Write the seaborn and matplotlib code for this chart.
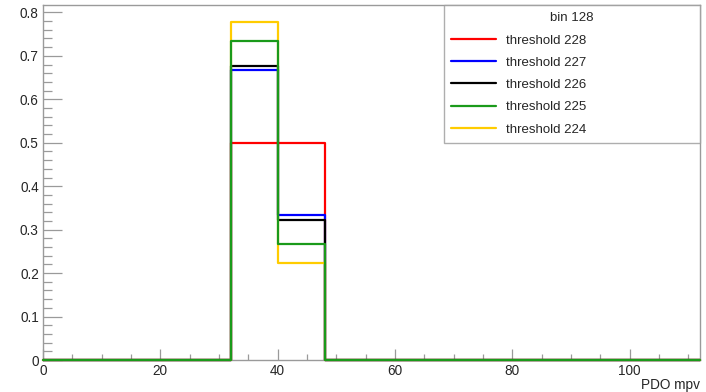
import numpy as np
import pandas as pd
import seaborn as sns
import matplotlib
matplotlib.use("Agg")
import matplotlib.pyplot as plt
from matplotlib.ticker import MultipleLocator

# Histogram binning for PDO mpv (14 bins of width 8 from 0 to 112)
bin_width = 8
x_range = (0, 112)
bin_centers = np.arange(x_range[0] + bin_width / 2, x_range[1], bin_width)

# Normalised contents of the two populated bins [32,40) and [40,48)
thresholds = [228, 227, 226, 225, 224]
frac_bin_32 = [0.5, 0.6667, 0.6774, 0.7333, 0.7778]
frac_bin_40 = [0.5, 0.3333, 0.3226, 0.2667, 0.2222]
colors = ["#ff0000", "#0000ff", "#000000", "#1a9a1a", "#ffcc00"]
zorders = [3, 4, 5, 7, 6]

sns.set_theme(style="white")
plt.rcParams["font.family"] = ["Liberation Sans", "DejaVu Sans"]

fig = plt.figure(figsize=(7.06, 3.92), dpi=100)
ax = fig.add_axes([43 / 706, 1 - 360 / 392, (700 - 43) / 706, (360 - 5) / 392])

rows = []
for thr, a, b in zip(thresholds, frac_bin_32, frac_bin_40):
    w = np.zeros(len(bin_centers))
    w[4] = a
    w[5] = b
    for c, wv in zip(bin_centers, w):
        rows.append({"mpv": c, "weight": wv, "series": f"threshold {thr}"})
df = pd.DataFrame(rows)

for thr, col, z in zip(thresholds, colors, zorders):
    sub = df[df["series"] == f"threshold {thr}"]
    sns.histplot(data=sub, x="mpv", weights="weight", binwidth=bin_width,
                 binrange=x_range, element="step", fill=False, color=col,
                 linewidth=1.6, ax=ax, label=f"threshold {thr}", zorder=z)

# let the zero-level outline sit on top of the frame instead of being clipped
for artist in list(ax.lines) + list(ax.patches) + list(ax.collections):
    artist.set_clip_on(False)

ax.set_ylabel("")
ax.set_xlabel("")

frame_col = "#9a9a9a"
for sp in ax.spines.values():
    sp.set_color(frame_col)
    sp.set_linewidth(1.0)
    sp.set_zorder(1)

ax.xaxis.set_major_locator(MultipleLocator(20))
ax.xaxis.set_minor_locator(MultipleLocator(5))
ax.yaxis.set_major_locator(MultipleLocator(0.1))
ax.yaxis.set_minor_locator(MultipleLocator(0.02))
ax.tick_params(axis="x", which="major", direction="in", length=8, width=0.9,
               color=frame_col, labelsize=9.8, pad=3.2, bottom=True, top=False)
ax.tick_params(axis="x", which="minor", direction="in", length=4, width=0.9,
               color=frame_col, bottom=True, top=False)
ax.tick_params(axis="y", which="major", direction="in", length=13.5, width=0.9,
               color=frame_col, labelsize=9.8, pad=3, left=True, right=False)
ax.tick_params(axis="y", which="minor", direction="in", length=6.5, width=0.9,
               color=frame_col, left=True, right=False)
xt = np.arange(0, 101, 20)
ax.set_xticks(xt)
ax.set_xticklabels([f"{int(v)}" for v in xt])
yt = np.round(np.arange(0, 0.81, 0.1), 1)
ax.set_yticks(yt)
ax.set_yticklabels(["0" if v == 0 else f"{v:.1f}" for v in yt])
ax.set_xlim(*x_range)
ax.set_ylim(0, 0.817)

fig.text(700 / 706, 1 - 385 / 392, "PDO mpv", ha="right", va="center", fontsize=9.8)

leg_x0 = (444 - 43) / 657
leg = ax.legend(title="bin 128", loc="upper left",
                bbox_to_anchor=(leg_x0, 0.0, 1.0 - leg_x0, 1.0), mode="expand",
                borderaxespad=0, fancybox=False, frameon=True, fontsize=9.5,
                title_fontsize=9.5, handlelength=3.4, handletextpad=0.75,
                labelspacing=0.76, borderpad=0.55)
leg.get_frame().set_edgecolor(frame_col)
leg.get_frame().set_linewidth(1.0)
leg.set_zorder(10)
for line in leg.get_lines():
    line.set_linewidth(1.6)

fig.savefig("out.png", dpi=100)
